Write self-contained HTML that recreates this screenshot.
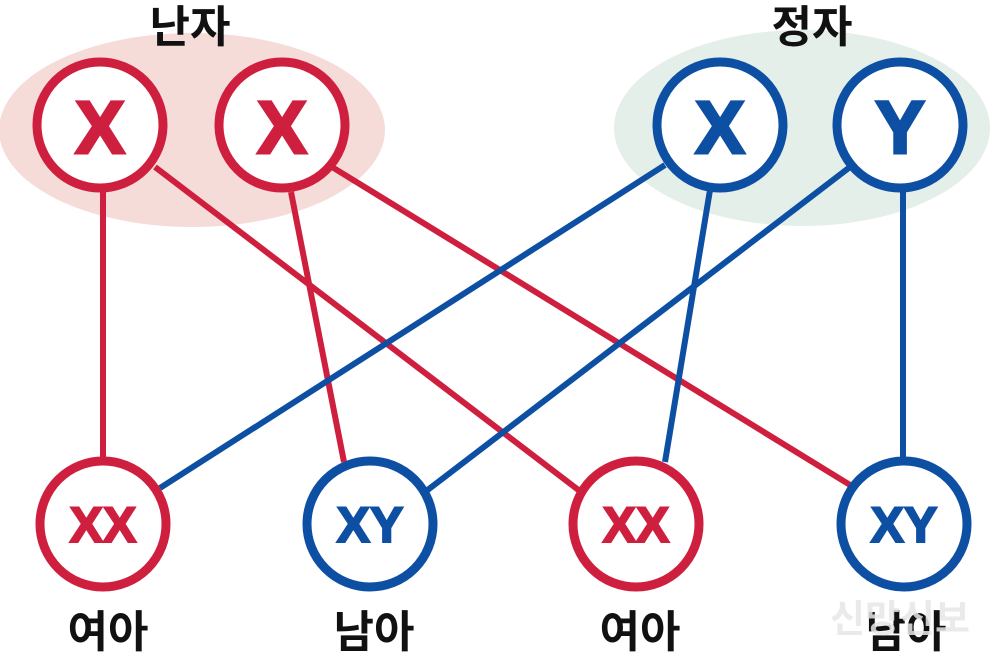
<!DOCTYPE html>
<html><head><meta charset="utf-8"><style>
body{margin:0;background:#fff;}
svg{display:block}
text{font-family:"Liberation Sans","Noto Sans CJK KR",sans-serif;font-weight:bold;}
</style></head><body>
<svg width="1000" height="653" viewBox="0 0 1000 653">
<ellipse cx="192" cy="130" rx="193" ry="97" fill="#f6dcd8"/>
<ellipse cx="802" cy="128" rx="188" ry="98" fill="#e5efea"/>
<g stroke-width="6" fill="none">
<line x1="103" y1="190" x2="103" y2="460" stroke="#cf1f3e"/>
<line x1="155" y1="167" x2="585" y2="495" stroke="#cf1f3e"/>
<line x1="291" y1="192" x2="344" y2="462" stroke="#cf1f3e"/>
<line x1="332" y1="167" x2="855" y2="488" stroke="#cf1f3e"/>
<line x1="665" y1="165" x2="160" y2="488" stroke="#0d4fa3"/>
<line x1="710" y1="190" x2="665" y2="462" stroke="#0d4fa3"/>
<line x1="850" y1="167" x2="425" y2="492" stroke="#0d4fa3"/>
<line x1="903" y1="190" x2="903" y2="460" stroke="#0d4fa3"/>
</g>
<g stroke-width="9" fill="#fff">
<circle cx="100" cy="125" r="63" stroke="#cf1f3e"/>
<circle cx="282" cy="125" r="63" stroke="#cf1f3e"/>
<circle cx="720" cy="125" r="63" stroke="#0d4fa3"/>
<circle cx="900" cy="125" r="63" stroke="#0d4fa3"/>
<circle cx="103" cy="524" r="63" stroke="#cf1f3e"/>
<circle cx="370" cy="524" r="63" stroke="#0d4fa3"/>
<circle cx="636" cy="524" r="63" stroke="#cf1f3e"/>
<circle cx="904" cy="524" r="63" stroke="#0d4fa3"/>
</g>
<g text-anchor="middle" font-size="74" stroke-width="3">
<text x="100" y="153" fill="#cf1f3e" stroke="#cf1f3e">X</text>
<text x="282" y="153" fill="#cf1f3e" stroke="#cf1f3e">X</text>
<text x="720" y="153" fill="#0d4fa3" stroke="#0d4fa3">X</text>
<text x="900" y="153" fill="#0d4fa3" stroke="#0d4fa3">Y</text>
</g>
<g text-anchor="middle" font-size="50" stroke-width="2">
<text x="103" y="542" fill="#cf1f3e" stroke="#cf1f3e">XX</text>
<text x="370" y="542" fill="#0d4fa3" stroke="#0d4fa3">XY</text>
<text x="636" y="542" fill="#cf1f3e" stroke="#cf1f3e">XX</text>
<text x="904" y="542" fill="#0d4fa3" stroke="#0d4fa3">XY</text>
</g>
<g text-anchor="middle" font-size="44" fill="#111">
<text x="190" y="42">난자</text>
<text x="812" y="42">정자</text>
<text x="108" y="647">여아</text>
<text x="374" y="647">남아</text>
<text x="640" y="647">여아</text>
<text x="906" y="647">남아</text>
</g>
<text x="900" y="632" text-anchor="middle" font-size="38" fill="#e6e6e6" fill-opacity="0.85">신망신보</text>
</svg>
</body></html>
